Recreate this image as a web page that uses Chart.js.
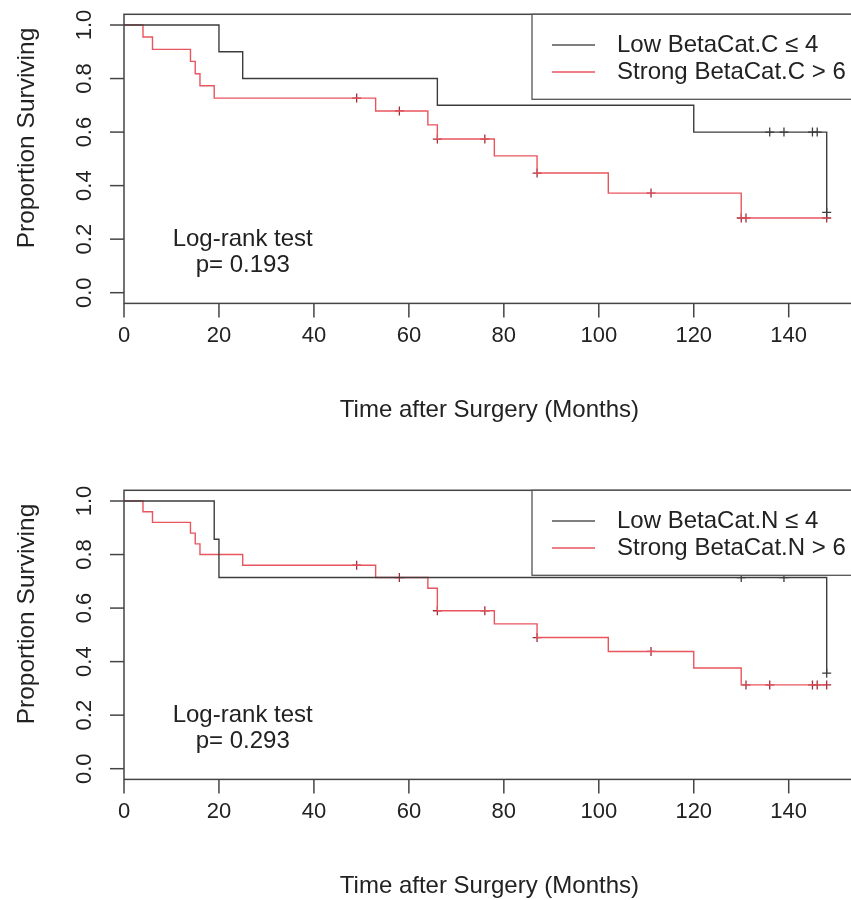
<!DOCTYPE html>
<html>
<head>
<meta charset="utf-8">
<script src="https://cdn.jsdelivr.net/npm/chart.js@4.4.1/dist/chart.umd.min.js"></script>
<style>
  body { margin: 0; background: #fff; width: 851px; height: 900px; overflow: hidden; position: relative; }
  .panel { position: absolute; left: 0; width: 870px; height: 450px; }
</style>
</head>
<body>
<div class="panel" style="top:0"><canvas id="chartC" width="870" height="450"></canvas></div>
<div class="panel" style="top:476px"><canvas id="chartN" width="870" height="450"></canvas></div>
<script>
const xTicks = [0, 20, 40, 60, 80, 100, 120, 140];
const yTicks = [0.0, 0.2, 0.4, 0.6, 0.8, 1.0];
const xTitle = 'Time after Surgery (Months)';
const yTitle = 'Proportion Surviving';

// top panel - cytoplasmic BetaCat
const lowCTime = [0, 20, 25, 66, 120, 148];
const lowCSurv = [1, 0.9, 0.8, 0.7, 0.6, 0.3];
const lowCCensor = [136, 139, 145, 146, 148];
const strongCTime = [0, 4, 6, 14, 15, 16, 19, 53, 64, 66, 78, 87, 102, 130, 148];
const strongCSurv = [1, 0.955, 0.909, 0.864, 0.818, 0.773, 0.727, 0.679, 0.627, 0.574, 0.511, 0.447, 0.372, 0.279, 0.279];
const strongCCensor = [49, 58, 66, 76, 87, 111, 130, 131, 148];
const legendC = ['Low BetaCat.C \u2264 4', 'Strong BetaCat.C > 6'];
const pValueC = 'p= 0.193';

// bottom panel - nuclear BetaCat
const lowNTime = [0, 19, 20, 148];
const lowNSurv = [1, 0.857, 0.714, 0.357];
const lowNCensor = [130, 139, 148];
const strongNTime = [0, 4, 6, 14, 15, 16, 25, 53, 64, 66, 78, 87, 102, 120, 130, 148];
const strongNSurv = [1, 0.96, 0.92, 0.88, 0.84, 0.80, 0.76, 0.714, 0.674, 0.59, 0.541, 0.49, 0.438, 0.376, 0.313, 0.313];
const strongNCensor = [49, 58, 66, 76, 87, 111, 131, 136, 145, 146, 148];
const legendN = ['Low BetaCat.N \u2264 4', 'Strong BetaCat.N > 6'];
const pValueN = 'p= 0.293';

const FONT = '"Liberation Sans", Arial, sans-serif';
const lowColor = '#3c3c3c';
const strongColor = '#e8555e';
const strongMark = '#a02a38';

function stepPoints(times, surv) {
    return times.map((t, i) => ({ x: t, y: surv[i] }));
}

// censor marks sit on the curve at their time
function censorPoints(cens, times, surv) {
    return cens.map(t => {
        let y = surv[0];
        times.forEach((tt, i) => { if (tt <= t) y = surv[i]; });
        return { x: t, y: y };
    });
}

const rAxes = {
    id: 'rAxes',
    afterDraw(chart, args, opts) {
        const ctx = chart.ctx;
        const a = chart.chartArea;
        const xs = chart.scales.x;
        const ys = chart.scales.y;
        ctx.save();
        ctx.strokeStyle = '#444';
        ctx.lineWidth = 1.5;
        ctx.strokeRect(a.left, a.top, a.right - a.left, a.bottom - a.top);

        ctx.fillStyle = '#222';
        ctx.font = '22px ' + FONT;
        ctx.textAlign = 'center';
        ctx.textBaseline = 'middle';
        xTicks.forEach(v => {
            const px = xs.getPixelForValue(v);
            ctx.beginPath();
            ctx.moveTo(px, a.bottom);
            ctx.lineTo(px, a.bottom + 14);
            ctx.stroke();
            ctx.fillText(String(v), px, a.bottom + 33);
        });
        yTicks.forEach(v => {
            const py = ys.getPixelForValue(v);
            ctx.beginPath();
            ctx.moveTo(a.left - 14, py);
            ctx.lineTo(a.left, py);
            ctx.stroke();
            ctx.save();
            ctx.translate(85, py);
            ctx.rotate(-Math.PI / 2);
            ctx.fillText(v.toFixed(1), 0, 0);
            ctx.restore();
        });

        ctx.font = '24px ' + FONT;
        ctx.fillText(xTitle, (a.left + a.right) / 2, 410);
        ctx.save();
        ctx.translate(27, 138);
        ctx.rotate(-Math.PI / 2);
        ctx.font = '24.5px ' + FONT;
        ctx.fillText(yTitle, 0, 0);
        ctx.restore();

        // log-rank note
        ctx.fillText('Log-rank test', xs.getPixelForValue(25), 239);
        ctx.fillText(opts.pText, xs.getPixelForValue(25), 265);

        // legend box, top right
        ctx.fillStyle = '#fff';
        ctx.fillRect(532, a.top, a.right - 532, 85);
        ctx.strokeStyle = '#555';
        ctx.lineWidth = 1.3;
        ctx.strokeRect(532, a.top, a.right - 532, 85);
        const rows = [[opts.labels[0], '#555', 45], [opts.labels[1], strongColor, 72]];
        ctx.textAlign = 'left';
        rows.forEach(r => {
            ctx.strokeStyle = r[1];
            ctx.beginPath();
            ctx.moveTo(552, r[2]);
            ctx.lineTo(595, r[2]);
            ctx.stroke();
            ctx.fillStyle = '#222';
            ctx.fillText(r[0], 617, r[2]);
        });
        ctx.restore();
    }
};

function makeChart(id, lowT, lowS, lowC, strT, strS, strC, labels, pText) {
    const ctx = document.getElementById(id).getContext('2d');
    return new Chart(ctx, {
        type: 'line',
        data: {
            datasets: [
                { data: stepPoints(lowT, lowS), stepped: true, borderColor: lowColor, borderWidth: 1.4, pointRadius: 0, fill: false },
                { data: censorPoints(lowC, lowT, lowS), showLine: false, pointStyle: 'cross', pointRadius: 4.5, borderColor: lowColor, borderWidth: 1.3 },
                { data: stepPoints(strT, strS), stepped: true, borderColor: strongColor, borderWidth: 1.4, pointRadius: 0, fill: false },
                { data: censorPoints(strC, strT, strS), showLine: false, pointStyle: 'cross', pointRadius: 4.5, borderColor: strongMark, borderWidth: 1.3 }
            ]
        },
        options: {
            responsive: false,
            animation: false,
            layout: { padding: { left: 124, top: 14.3, right: 15.2, bottom: 146.6 } },
            scales: {
                x: { type: 'linear', min: 0, max: 153.92, display: false },
                y: { type: 'linear', min: -0.04, max: 1.04, display: false }
            },
            plugins: {
                legend: { display: false },
                tooltip: { enabled: false },
                rAxes: { labels: labels, pText: pText }
            }
        },
        plugins: [rAxes]
    });
}

makeChart('chartC', lowCTime, lowCSurv, lowCCensor, strongCTime, strongCSurv, strongCCensor, legendC, pValueC);
makeChart('chartN', lowNTime, lowNSurv, lowNCensor, strongNTime, strongNSurv, strongNCensor, legendN, pValueN);
</script>
</body>
</html>
